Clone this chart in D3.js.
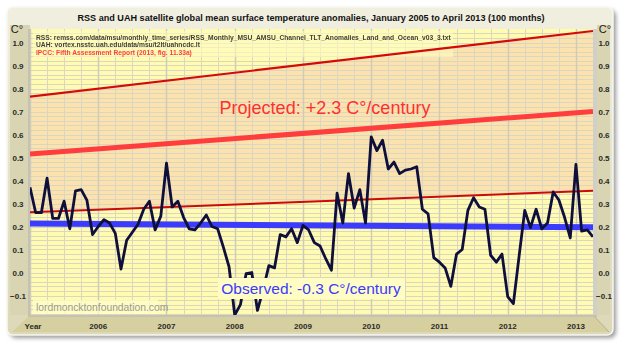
<!DOCTYPE html>
<html><head><meta charset="utf-8">
<script src="https://cdn.jsdelivr.net/npm/d3@7"></script>
<style>body{margin:0;background:#fff}svg{display:block}</style>
</head><body>
<svg id="c" width="622" height="344"></svg>
<script>
const title = "RSS and UAH satellite global mean surface temperature anomalies, January 2005 to April 2013 (100 months)";
const sources = [
  "RSS: remss.com/data/msu/monthly_time_series/RSS_Monthly_MSU_AMSU_Channel_TLT_Anomalies_Land_and_Ocean_v03_3.txt",
  "UAH: vortex.nsstc.uah.edu/data/msu/t2lt/uahncdc.lt",
  "IPCC: Fifth Assessment Report (2013, fig. 11.33a)"
];
const yearLabels = ["Year","2006","2007","2008","2009","2010","2011","2012","2013"];
const yTicks = [-0.1,0,0.1,0.2,0.3,0.4,0.5,0.6,0.7,0.8,0.9,1.0];
// monthly anomalies Jan 2005 .. Apr 2013 (100 months)
const anomalies = [
 0.37,0.26,0.26,0.41,0.235,0.235,0.31,0.19,0.355,0.36,0.315,0.165,
 0.20,0.23,0.215,0.17,0.015,0.14,0.175,0.21,0.275,0.31,0.185,0.245,
 0.475,0.285,0.31,0.24,0.19,0.185,0.215,0.25,0.20,0.19,0.11,0.025,
 -0.185,-0.14,-0.005,0.0,-0.165,-0.075,0.03,0.02,0.165,0.155,0.19,0.13,
 0.205,0.185,0.13,0.115,0.06,0.01,0.345,0.215,0.43,0.28,0.36,0.215,
 0.59,0.53,0.575,0.45,0.48,0.43,0.445,0.45,0.46,0.275,0.255,0.065,
 0.045,0.02,-0.06,0.08,0.10,0.27,0.325,0.285,0.275,0.075,0.045,0.08,
 -0.105,-0.135,0.07,0.27,0.195,0.275,0.19,0.215,0.35,0.315,0.24,0.15,
 0.47,0.18,0.185,0.155];
// trend lines: [start, end]
const ipccUpper = [0.765, 1.05];
const ipccMid = [0.515, 0.70];
const ipccLower = [0.262, 0.355];
const observed = [0.213, 0.197];
const projectedLabel = "Projected: +2.3 C°/century";
const observedLabel = "Observed: -0.3 C°/century";
const watermark = "lordmoncktonfoundation.com";

const svg = d3.select("#c");
const PL=30, PR=593, PT=29, PB=315;
const x = d3.scaleLinear().domain([0, anomalies.length-1]).range([PL, PR]);
const y = d3.scaleLinear().domain([-0.1, 1.0]).range([295.5, 42.5]);
const font = "'Liberation Sans', Arial, sans-serif";

const defs = svg.append("defs");
const g1 = defs.append("linearGradient").attr("id","frameG").attr("x1",0).attr("y1",0).attr("x2",0).attr("y2",1);
g1.append("stop").attr("offset","0%").attr("stop-color","#f1efe0");
g1.append("stop").attr("offset","100%").attr("stop-color","#dcd8b8");
defs.append("filter").attr("id","sh").append("feGaussianBlur").attr("stdDeviation",2);
defs.append("clipPath").attr("id","clip").append("rect").attr("x",PL).attr("y",PT).attr("width",PR-PL).attr("height",PB-PT);

// shadow + frame
svg.append("rect").attr("x",10).attr("y",10).attr("width",606).attr("height",328).attr("rx",6).attr("fill","#9a9a9a").attr("filter","url(#sh)");
svg.append("rect").attr("x",7).attr("y",7).attr("width",606).attr("height",328).attr("rx",6).attr("fill","url(#frameG)").attr("stroke","#f8f8f0").attr("stroke-width",1.5);
// side strips
svg.append("rect").attr("x",10).attr("y",PT-4).attr("width",PL-10).attr("height",PB-PT+4).attr("fill","#d9d5b3");
svg.append("rect").attr("x",PR+4).attr("y",PT-4).attr("width",613-PR-7).attr("height",PB-PT+4).attr("fill","#d9d5b3");
// floor
svg.append("path").attr("d",`M${PL},${PB} L${PR},${PB} L${PR+16},${PB+17} L${12},${PB+17} Z`).attr("fill","#d6cf9f");
svg.append("line").attr("x1",PR).attr("y1",PB).attr("x2",PR+16).attr("y2",PB+17).attr("stroke","#b8b08a");
// wall edges
svg.append("rect").attr("x",PL-2).attr("y",PT).attr("width",2).attr("height",PB-PT+2).attr("fill","#c4c2b4");
svg.append("rect").attr("x",PR).attr("y",PT).attr("width",4).attr("height",PB-PT).attr("fill","#d0d0c8");
svg.append("rect").attr("x",PL-2).attr("y",PB).attr("width",PR-PL+6).attr("height",2).attr("fill","#c4c2b4");

const plot = svg.append("g").attr("clip-path","url(#clip)");
plot.append("rect").attr("x",PL).attr("y",PT).attr("width",PR-PL).attr("height",PB-PT).attr("fill","#fffcb2");
const n = anomalies.length-1;
// orange band between IPCC lower and upper
plot.append("path").attr("d",
  `M${x(0)},${y(ipccLower[0])} L${x(n)},${y(ipccLower[1])} L${x(n)},${y(ipccUpper[1])} L${x(0)},${y(ipccUpper[0])} Z`)
  .attr("fill","#fce3ad");
// grid
const hg = d3.range(-0.18, 1.06, 0.02);
plot.selectAll(".hg").data(hg).join("line").attr("x1",PL).attr("x2",PR)
  .attr("y1",d=>Math.round(y(d))+0.5).attr("y2",d=>Math.round(y(d))+0.5).attr("stroke","#dad6c2").attr("stroke-width",1);
const vg = d3.range(0, 100, 3);
plot.selectAll(".vg").data(vg).join("line").attr("y1",PT).attr("y2",PB)
  .attr("x1",d=>Math.round(x(d))+0.5).attr("x2",d=>Math.round(x(d))+0.5)
  .attr("stroke",d=>d%12===0?"#cfcbb8":"#dad6c2").attr("stroke-width",d=>d%12===0?1.5:1);

// source text box
plot.append("rect").attr("x",33).attr("y",31).attr("width",420).attr("height",26).attr("fill","#fffcc0").attr("opacity",0.6);
sources.forEach((s,i)=>{
  svg.append("text").attr("x",36).attr("y",39.5+i*7.6).text(s)
    .attr("font-family",font).attr("font-size",6.7).attr("font-weight","bold")
    .attr("fill", i===2?"#ff2020":"#1a1a1a").attr("opacity",0.85);
});

const seg = (v)=>[[0,v[0]],[n,v[1]]];
const ln = d3.line().x(d=>x(d[0])).y(d=>y(d[1]));
plot.append("path").attr("d",ln(seg(ipccUpper))).attr("stroke","#d40a0a").attr("stroke-width",2.2).attr("fill","none");
plot.append("path").attr("d",ln(seg(ipccMid))).attr("stroke","#ff3d3d").attr("stroke-width",5).attr("fill","none");
plot.append("path").attr("d",ln(seg(ipccLower))).attr("stroke","#cc0a0a").attr("stroke-width",2).attr("fill","none");
plot.append("path").attr("d",ln(seg(observed))).attr("stroke","#3c3cff").attr("stroke-width",6).attr("fill","none");

// projected label
svg.append("text").attr("x",325).attr("y",114).attr("text-anchor","middle").text(projectedLabel)
  .attr("font-family",font).attr("font-size",18).attr("fill","#ff3030");

// observed label with bg
svg.append("rect").attr("x",218).attr("y",278).attr("width",187).attr("height",21).attr("fill","#fffcc4");
svg.append("text").attr("x",311).attr("y",294).attr("text-anchor","middle").text(observedLabel)
  .attr("font-family",font).attr("font-size",15.5).attr("fill","#3b3bff");

// data line
plot.append("path").datum(anomalies).attr("d",d3.line().x((d,i)=>x(i)).y(d=>y(d)))
  .attr("fill","none").attr("stroke","#0f0f3c").attr("stroke-width",2.8).attr("stroke-linejoin","round");

// watermark
svg.append("rect").attr("x",33).attr("y",300).attr("width",125).attr("height",14).attr("fill","#fffcc4").attr("opacity",0.8);
svg.append("text").attr("x",36).attr("y",311).text(watermark)
  .attr("font-family",font).attr("font-size",10.3).attr("fill","#9a9a9a");

// title
svg.append("text").attr("x",311).attr("y",21).attr("text-anchor","middle").text(title)
  .attr("font-family",font).attr("font-size",9.1).attr("font-weight","bold").attr("fill","#111");

// y axis labels
const yl = svg.append("g");
yTicks.forEach(v=>{
  [18, 604].forEach(xx=>{
    yl.append("text").attr("x",xx).attr("y",y(v)+3).attr("text-anchor","middle").text(d3.format(".1f")(v))
      .attr("font-family",font).attr("font-size",8).attr("font-weight","bold").attr("fill","#2a2a2a");
  });
});
[17,605].forEach(xx=>{
  svg.append("text").attr("x",xx).attr("y",33).attr("text-anchor","middle").text("C°")
    .attr("font-family",font).attr("font-size",11).attr("fill","#1a1a1a");
});
// x labels
yearLabels.forEach((t,i)=>{
  svg.append("text").attr("x", i===0? 33 : x(i*12)).attr("y",329).attr("text-anchor","middle").text(t)
    .attr("font-family",font).attr("font-size",8).attr("font-weight","bold").attr("fill","#2a2a2a");
});
</script>
</body></html>
